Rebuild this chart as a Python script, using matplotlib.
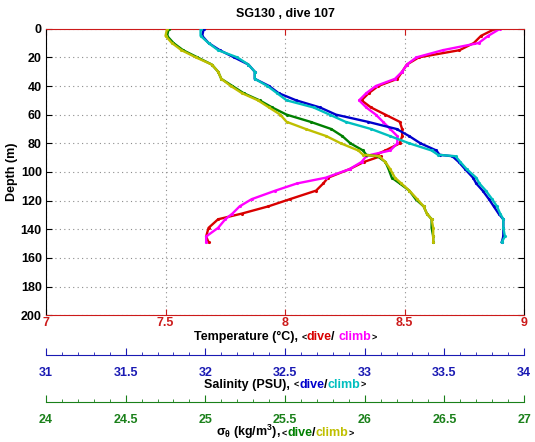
import matplotlib
matplotlib.use("Agg")
import matplotlib.pyplot as plt
from matplotlib.offsetbox import TextArea, HPacker, AnnotationBbox
from matplotlib.ticker import MultipleLocator

plt.rcParams['font.family'] = ['Liberation Sans', 'DejaVu Sans']
plt.rcParams['font.weight'] = 'bold'
plt.rcParams['mathtext.default'] = 'regular'

# ---------------- data ----------------
depth = [0, 5, 10, 15, 20, 25, 30, 35, 40, 45, 50, 55, 60, 65, 70, 75, 80, 85, 88,
         89, 93, 98, 104, 108, 113, 119, 124, 129, 133, 139, 145, 149]

temp_dive = [8.88, 8.82, 8.79, 8.73, 8.56, 8.51, 8.49, 8.47, 8.39, 8.35, 8.32, 8.36, 8.42, 8.48, 8.49, 8.49, 8.48, 8.42, 8.38,
             8.40, 8.33, 8.27, 8.18, 8.16, 8.13, 8.02, 7.93, 7.82, 7.72, 7.68, 7.67, 7.68]
temp_climb = [8.90, 8.85, 8.81, 8.66, 8.55, 8.51, 8.49, 8.46, 8.38, 8.34, 8.31, 8.34, 8.38, 8.41, 8.44, 8.47, 8.47, 8.44, 8.36,
              8.34, 8.32, 8.27, 8.17, 8.05, 7.96, 7.86, 7.81, 7.78, 7.75, 7.72, 7.67, 7.67]

sal_dive = [31.99, 31.98, 32.02, 32.09, 32.18, 32.27, 32.31, 32.31, 32.40, 32.46, 32.57, 32.72, 32.82, 33.02, 33.20, 33.28, 33.35, 33.45, 33.47,
            33.55, 33.59, 33.63, 33.68, 33.70, 33.74, 33.78, 33.81, 33.84, 33.87, 33.87, 33.87, 33.86]
sal_climb = [31.97, 31.97, 32.02, 32.08, 32.20, 32.27, 32.31, 32.31, 32.39, 32.45, 32.51, 32.68, 32.78, 32.88, 33.04, 33.16, 33.28, 33.42, 33.46,
             33.57, 33.60, 33.64, 33.70, 33.72, 33.76, 33.80, 33.83, 33.85, 33.87, 33.87, 33.88, 33.86]

sig_dive = [24.77, 24.76, 24.80, 24.86, 24.95, 25.04, 25.08, 25.10, 25.17, 25.24, 25.34, 25.42, 25.51, 25.66, 25.79, 25.86, 25.91, 25.99, 26.01,
            26.08, 26.13, 26.15, 26.17, 26.22, 26.28, 26.32, 26.37, 26.39, 26.42, 26.42, 26.43, 26.43]
sig_climb = [24.76, 24.75, 24.79, 24.85, 24.94, 25.04, 25.08, 25.10, 25.16, 25.23, 25.33, 25.40, 25.47, 25.51, 25.63, 25.76, 25.85, 25.96, 25.99,
             26.09, 26.13, 26.16, 26.19, 26.23, 26.28, 26.33, 26.37, 26.39, 26.42, 26.43, 26.43, 26.43]

temp_ticks = [7, 7.5, 8, 8.5, 9]
sal_ticks = [31, 31.5, 32, 32.5, 33, 33.5, 34]
sig_ticks = [24, 24.5, 25, 25.5, 26, 26.5, 27]
depth_ticks = [0, 20, 40, 60, 80, 100, 120, 140, 160, 180, 200]

# ---------------- colours ----------------
RED = (0.85, 0.0, 0.0)
MAG = (1.0, 0.0, 1.0)
BLUE = (0.0, 0.0, 0.8)
CYAN = (0.0, 0.75, 0.75)
GREEN = (0.0, 0.5, 0.0)
OLIVE = (0.75, 0.75, 0.0)
TRED = (0.8, 0.1, 0.1)
TBLUE = (0.1, 0.1, 0.7)
TGREEN = (0.1, 0.5, 0.1)

FS = 9

fig = plt.figure(figsize=(5.35, 4.42), dpi=100)
L, W = 0.086, 0.8935
ax = fig.add_axes([L, 0.2867, W, 0.6484])

ax.set_xlim(7, 9)
ax.set_ylim(200, 0)

# salinity and sigma drawn on their own axes sharing the same pixel span
axs = fig.add_axes([L, 0.2867, W, 0.6484], sharey=ax)
axg = fig.add_axes([L, 0.2867, W, 0.6484], sharey=ax)
axs.set_xlim(31, 34)
axg.set_xlim(24, 27)
for a in (axs, axg):
    a.axis('off')
    a.patch.set_visible(False)

kw = dict(marker='.', ms=2.5, lw=1.7)
ax.plot(temp_dive, depth, color=RED, **kw)
ax.plot(temp_climb, depth, color=MAG, **kw)
axs.plot(sal_dive, depth, color=BLUE, **kw)
axs.plot(sal_climb, depth, color=CYAN, **kw)
axg.plot(sig_dive, depth, color=GREEN, **kw)
axg.plot(sig_climb, depth, color=OLIVE, **kw)
ax.set_ylim(200, 0)

ax.set_xticks(temp_ticks)
ax.set_yticks(depth_ticks)
ax.grid(True, color='0.55', linestyle=(0, (1, 3)), linewidth=0.8)
ax.tick_params(axis='both', direction='in', length=4, top=True, right=True,
               labelsize=FS)
ax.tick_params(axis='x', colors=TRED, pad=1.5)
ax.tick_params(axis='y', colors='black', pad=3)
for s in ('top', 'bottom'):
    ax.spines[s].set_color(TRED)
ax.set_xticklabels([f"{t:g}" for t in temp_ticks], color=TRED, fontweight='bold')
ax.set_yticklabels([str(d) for d in depth_ticks], fontweight='bold')
fig.text(L + W / 2, 0.968, "SG130 , dive 107", ha='center', va='center',
         fontsize=FS, fontweight='bold')
fig.text(0.022, (0.2867 + 0.6484 / 2), "Depth (m)", rotation=90, ha='center', va='center',
         fontsize=FS, fontweight='bold')


def extra_axis(y, lo, hi, ticks, col, pad):
    a = fig.add_axes([L, y, W, 0.0001])
    a.patch.set_visible(False)
    for s in ('top', 'left', 'right'):
        a.spines[s].set_visible(False)
    a.spines['bottom'].set_color(col)
    a.set_xlim(lo, hi)
    a.set_yticks([])
    a.set_xticks(ticks)
    a.xaxis.set_minor_locator(MultipleLocator(0.1))
    a.tick_params(axis='x', which='major', direction='in', length=5, color=col,
                  labelcolor=col, labelsize=FS, pad=pad)
    a.tick_params(axis='x', which='minor', direction='in', length=2.5, color=col)
    a.set_xticklabels([f"{t:g}" for t in ticks], fontweight='bold')
    return a


extra_axis(0.1977, 31, 34, sal_ticks, TBLUE, 9)
extra_axis(0.0896, 24, 27, sig_ticks, TGREEN, 8)


def colored_label(pieces, y):
    boxes = []
    for txt, col, sz in pieces:
        boxes.append(TextArea(txt, textprops=dict(color=col, fontsize=sz, fontweight='bold')))
    pack = HPacker(children=boxes, align='baseline', pad=0, sep=0)
    ab = AnnotationBbox(pack, (L + W / 2, y), xycoords='figure fraction',
                        frameon=False, box_alignment=(0.5, 0.5))
    fig.add_artist(ab)


colored_label([("Temperature (°C), ", 'black', FS), ("<", 'black', 6.5),
               ("dive", RED, FS), ("/ ", 'black', FS), ("climb", MAG, FS), (">", 'black', 6.5)], 0.2366)
colored_label([("Salinity (PSU), ", 'black', FS), ("<", 'black', 6.5),
               ("dive", BLUE, FS), ("/", 'black', FS), ("climb", CYAN, FS), (">", 'black', 6.5)], 0.1290)
colored_label([(r"$\sigma_\theta$ (kg/m$^3$), ", 'black', FS), ("<", 'black', 6.5),
               ("dive", GREEN, FS), ("/", 'black', FS), ("climb", OLIVE, FS), (">", 'black', 6.5)], 0.022)

fig.savefig("out.png", dpi=100)
